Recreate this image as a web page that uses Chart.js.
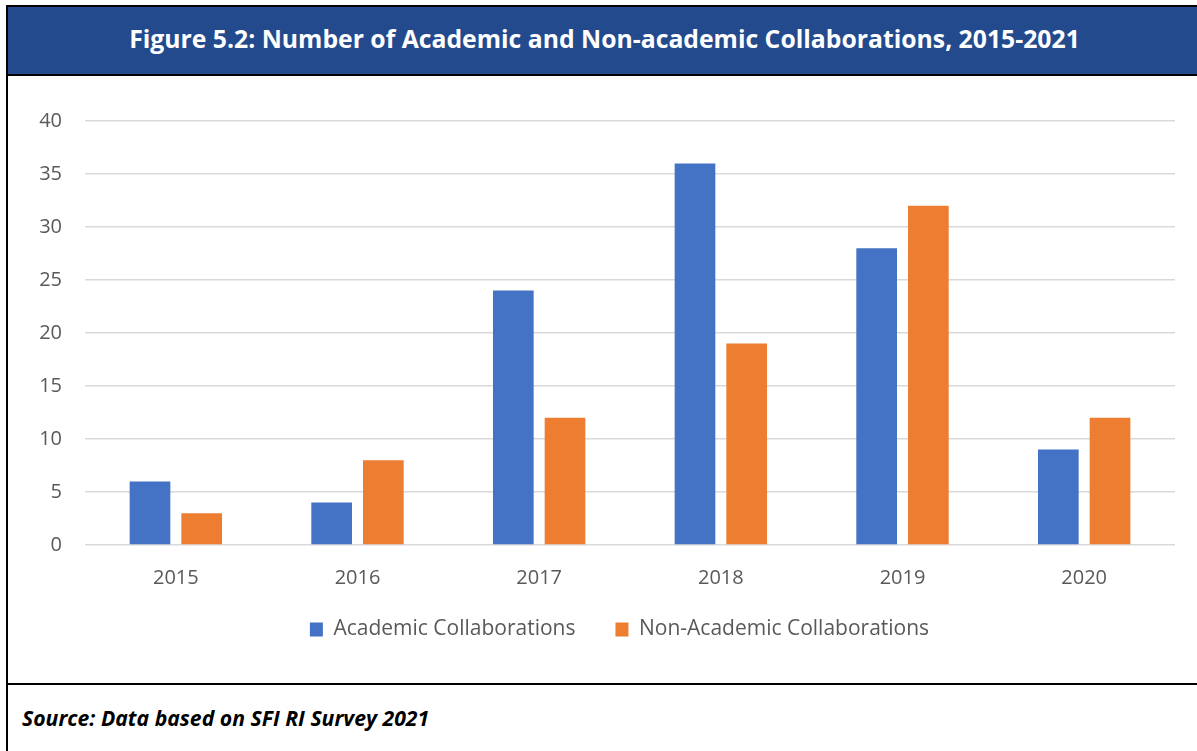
<!DOCTYPE html>
<html>
<head>
<meta charset="utf-8">
<script src="https://cdn.jsdelivr.net/npm/chart.js@4"></script>
<style>
  body { margin: 0; background: #fff; width: 1197px; height: 751px; overflow: hidden; position: relative; font-family: "Open Sans", sans-serif; }
  #frame { position: absolute; left: 6px; top: 5px; width: 1200px; height: 760px; border-left: 2px solid #000; border-top: 2px solid #000; }
  #banner { position: absolute; left: 8px; top: 7px; width: 1200px; height: 67px; background: #244a8e; border-bottom: 2px solid #000;
            color: #fff; font-weight: bold; font-size: 24.75px; line-height: 63px; }
  #banner span { position: absolute; left: -2px; width: 1197px; text-align: center; top: 0; }
  #chartBox { position: absolute; left: 8px; top: 76px; width: 1187px; height: 607px; }
  #rule { position: absolute; left: 8px; top: 683px; width: 1200px; height: 2px; background: #000; }
  #source { position: absolute; left: 22px; top: 706px; font-size: 21.2px; line-height: 24px; font-weight: bold; font-style: italic; color: #000; }
</style>
</head>
<body>
<div id="frame"></div>
<div id="banner"><span>Figure 5.2: Number of Academic and Non-academic Collaborations, 2015-2021</span></div>
<div id="chartBox"><canvas id="myChart"></canvas></div>
<div id="rule"></div>
<div id="source">Source: Data based on SFI RI Survey 2021</div>

<script>
// --------------
// DATA
// --------------
const years = ["2015", "2016", "2017", "2018", "2019", "2020"];
const academic = [6, 4, 24, 36, 28, 9];
const nonAcademic = [3, 8, 12, 19, 32, 12];
const seriesNames = ["Academic Collaborations", "Non-Academic Collaborations"];
const seriesColors = ["#4472c4", "#ed7d31"];

Chart.defaults.font.family = "'Open Sans', sans-serif";
Chart.defaults.color = "#595959";

// legend: a little extra height, then nudge it into place
const legendSpace = {
  id: "legendSpace",
  beforeInit(chart) {
    const fit = chart.legend.fit;
    chart.legend.fit = function () {
      fit.call(this);
      this.height += 12;
    };
  },
  afterLayout(chart) {
    const lg = chart.legend;
    lg.top -= 11;
    lg.bottom -= 11;
    lg.left += 28;
    lg.right += 28;
  }
};

const ctx = document.getElementById("myChart").getContext("2d");

new Chart(ctx, {
  type: "bar",
  data: {
    labels: years,
    datasets: [
      { label: seriesNames[0], data: academic, backgroundColor: seriesColors[0] },
      { label: seriesNames[1], data: nonAcademic, backgroundColor: seriesColors[1] }
    ]
  },
  plugins: [legendSpace],
  options: {
    responsive: true,
    maintainAspectRatio: false,
    animation: false,
    layout: { padding: { left: 0, right: 20, top: 45, bottom: 10 } },
    datasets: { bar: { categoryPercentage: 0.569, barPercentage: 0.787 } },
    plugins: {
      legend: {
        position: "bottom",
        labels: { boxWidth: 13, boxHeight: 14, padding: 40, font: { size: 21 }, color: "#595959" }
      },
      tooltip: { enabled: false }
    },
    scales: {
      x: {
        grid: { display: false },
        border: { display: false },
        ticks: { font: { size: 20 }, padding: 13 },
        afterFit: (scale) => { scale.height = 45; }
      },
      y: {
        min: 0,
        max: 40,
        ticks: { stepSize: 5, font: { size: 20 }, padding: 23 },
        grid: { color: "#d9d9d9", lineWidth: 1.5, drawTicks: false },
        border: { display: false },
        afterFit: (scale) => { scale.width = 77; }
      }
    }
  }
});
</script>
</body>
</html>
